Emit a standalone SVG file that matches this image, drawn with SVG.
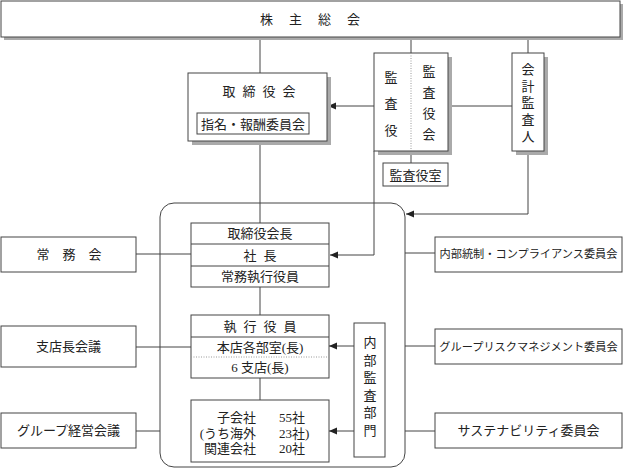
<svg xmlns="http://www.w3.org/2000/svg" width="624" height="474" viewBox="0 0 624 474">
<defs>
<style>
.b{fill:#fff;stroke:#444;stroke-width:1}
.sh{fill:#aaa;stroke:none}
.t{font-family:"Liberation Serif","Noto Sans CJK JP",serif;font-size:13px;fill:#222;dominant-baseline:central;text-anchor:middle}
.s{font-size:11.2px}
.c{fill:none;stroke:#444;stroke-width:1}
.d{fill:none;stroke:#999;stroke-width:1;stroke-dasharray:1 1.5}
</style>
<marker id="ah" markerWidth="8" markerHeight="8" refX="8" refY="4" orient="auto" markerUnits="userSpaceOnUse">
<path d="M0,0.5 L8,4 L0,7.5 z" fill="#222"/>
</marker>
</defs>
<rect width="624" height="474" fill="#fff"/>

<g id="connectors">
<path class="c" d="M260,37 V73"/>
<path class="c" d="M411,37 V53"/>
<path class="c" d="M528,37 V53"/>
<path class="c" d="M374,106 H328" marker-end="url(#ah)"/>
<path class="c" d="M448,106 H512"/>
<path class="c" d="M411,151 V163"/>
<path class="c" d="M374,151 V255 H330" marker-end="url(#ah)"/>
<path class="c" d="M528,151 V214 H406" marker-end="url(#ah)"/>
<path class="c" d="M260,141 V223"/>
<path class="c" d="M260,287 V315"/>
<path class="c" d="M260,378 V400"/>
<path class="c" d="M136,254 H191"/>
<path class="c" d="M136,347 H191"/>
<path class="c" d="M136,431 H160"/>
<path class="c" d="M405,253 H435"/>
<path class="c" d="M405,346 H435"/>
<path class="c" d="M405,431 H435"/>
<path class="c" d="M354,346 H329" marker-end="url(#ah)"/>
<path class="c" d="M354,431 H329" marker-end="url(#ah)"/>
</g>

<g id="frame">
<rect class="c" x="160" y="203" width="245" height="264" rx="14"/>
</g>

<g id="kabunushi">
<rect class="sh" x="4" y="4" width="619" height="36"/>
<rect class="b" x="1" y="1" width="619" height="36"/>
<text class="t" x="310" y="19" letter-spacing="16" dx="8">株主総会</text>
</g>

<g id="torishimariyakukai">
<rect class="sh" x="192" y="77" width="139" height="68"/>
<rect class="b" x="188" y="73" width="139" height="68"/>
<text class="t" x="259" y="91" letter-spacing="7" dx="3.5">取締役会</text>
<rect class="b" x="197" y="113" width="112" height="21"/>
<text class="t" x="253" y="124">指名・報酬委員会</text>
</g>

<g id="kansayaku">
<rect class="sh" x="378" y="57" width="74" height="98"/>
<rect class="b" x="374" y="53" width="74" height="98"/>
<path class="d" d="M411,53 V151"/>
<text class="t" x="391" y="77">監</text>
<text class="t" x="391" y="103">査</text>
<text class="t" x="391" y="130">役</text>
<text class="t" x="429" y="71">監</text>
<text class="t" x="429" y="92">査</text>
<text class="t" x="429" y="113">役</text>
<text class="t" x="429" y="134">会</text>
</g>

<g id="kansayakushitsu">
<rect class="b" x="383" y="163" width="65" height="23"/>
<text class="t" x="415.5" y="175">監査役室</text>
</g>

<g id="kaikeikansanin">
<rect class="sh" x="516" y="57" width="32" height="98"/>
<rect class="b" x="512" y="53" width="32" height="98"/>
<text class="t" x="528" y="69">会</text>
<text class="t" x="528" y="86">計</text>
<text class="t" x="528" y="102">監</text>
<text class="t" x="528" y="119">査</text>
<text class="t" x="528" y="136">人</text>
</g>

<g id="kaicho">
<rect class="b" x="191" y="223" width="138" height="64"/>
<path class="c" d="M191,244 H329 M191,266 H329"/>
<text class="t" x="260" y="233.5">取締役会長</text>
<text class="t" x="260" y="255" letter-spacing="7" dx="3.5">社長</text>
<text class="t" x="260" y="276.5">常務執行役員</text>
</g>

<g id="shikkoyakuin">
<rect class="b" x="191" y="315" width="138" height="63"/>
<path class="c" d="M191,337 H329"/>
<path class="d" d="M191,357 H329"/>
<text class="t" x="260" y="326" letter-spacing="7" dx="3.5">執行役員</text>
<text class="t" x="260" y="347">本店各部室(長)</text>
<text class="t" x="260" y="367.5">6 支店(長)</text>
</g>

<g id="kogaisha">
<rect class="b" x="191" y="400" width="138" height="62"/>
<text class="t" x="256" y="417" style="text-anchor:end">子会社</text>
<text class="t" x="279" y="417" style="text-anchor:start">55社</text>
<text class="t" x="256" y="433" style="text-anchor:end">(うち海外</text>
<text class="t" x="279" y="433" style="text-anchor:start">23社)</text>
<text class="t" x="256" y="448" style="text-anchor:end">関連会社</text>
<text class="t" x="279" y="448" style="text-anchor:start">20社</text>
</g>

<g id="naibukansa">
<rect class="b" x="354" y="323" width="31" height="134"/>
<text class="t" x="370" y="342">内</text>
<text class="t" x="370" y="360">部</text>
<text class="t" x="370" y="377">監</text>
<text class="t" x="370" y="395">査</text>
<text class="t" x="370" y="412">部</text>
<text class="t" x="370" y="430">門</text>
</g>

<g id="jomukai">
<rect class="b" x="1" y="237" width="135" height="35"/>
<text class="t" x="69" y="254.5" letter-spacing="13" dx="6.5">常務会</text>
</g>

<g id="shitenchokaigi">
<rect class="b" x="1" y="326" width="135" height="41"/>
<text class="t" x="68.5" y="346.5">支店長会議</text>
</g>

<g id="groupkeiei">
<rect class="b" x="1" y="413" width="135" height="35"/>
<text class="t" x="68.5" y="430.5">グループ経営会議</text>
</g>

<g id="naibutosei">
<rect class="b" x="435" y="237" width="187" height="35"/>
<text class="t s" x="528.5" y="254">内部統制・コンプライアンス委員会</text>
</g>

<g id="grouprisk">
<rect class="b" x="435" y="329" width="187" height="35"/>
<text class="t s" x="528.5" y="346.5">グループリスクマネジメント委員会</text>
</g>

<g id="sustainability">
<rect class="b" x="435" y="413" width="187" height="35"/>
<text class="t" x="528.5" y="430.5">サステナビリティ委員会</text>
</g>
</svg>
